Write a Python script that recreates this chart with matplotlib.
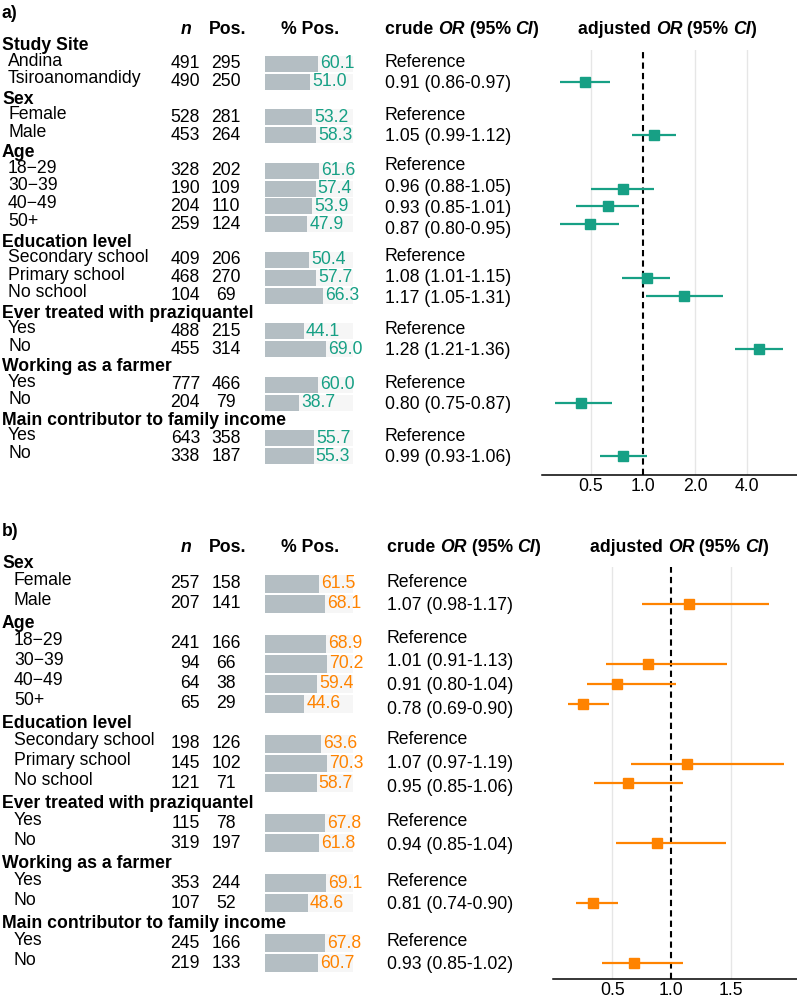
import numpy as np
import matplotlib.pyplot as plt

plt.rcParams['font.family'] = ['Liberation Sans', 'DejaVu Sans']

W, H = 797, 998
FS = 12.7
nan = np.nan

# ---- panel a ----
groups_a = ['Study Site', 'Sex', 'Age', 'Education level',
            'Ever treated with praziquantel', 'Working as a farmer',
            'Main contributor to family income']
levels_a = [['Andina', 'Tsiroanomandidy'], ['Female', 'Male'],
            ['18\u221229', '30\u221239', '40\u221249', '50+'],
            ['Secondary school', 'Primary school', 'No school'],
            ['Yes', 'No'], ['Yes', 'No'], ['Yes', 'No']]
n_a = [491, 490, 528, 453, 328, 190, 204, 259, 409, 468, 104, 488, 455, 777, 204, 643, 338]
pos_a = [295, 250, 281, 264, 202, 109, 110, 124, 206, 270, 69, 215, 314, 466, 79, 358, 187]
pct_a = [60.1, 51.0, 53.2, 58.3, 61.6, 57.4, 53.9, 47.9, 50.4, 57.7, 66.3,
         44.1, 69.0, 60.0, 38.7, 55.7, 55.3]
crude_a = ['Reference', '0.91 (0.86-0.97)', 'Reference', '1.05 (0.99-1.12)',
           'Reference', '0.96 (0.88-1.05)', '0.93 (0.85-1.01)', '0.87 (0.80-0.95)',
           'Reference', '1.08 (1.01-1.15)', '1.17 (1.05-1.31)',
           'Reference', '1.28 (1.21-1.36)', 'Reference', '0.80 (0.75-0.87)',
           'Reference', '0.99 (0.93-1.06)']
adj_a = [nan, 0.46, nan, 1.16, nan, 0.77, 0.63, 0.49, nan, 1.05, 1.73, nan, 4.7, nan, 0.44, nan, 0.77]
adj_lo_a = [nan, 0.33, nan, 0.86, nan, 0.50, 0.41, 0.33, nan, 0.76, 1.04, nan, 3.4, nan, 0.31, nan, 0.56]
adj_hi_a = [nan, 0.64, nan, 1.55, nan, 1.16, 0.95, 0.73, nan, 1.43, 2.90, nan, 6.5, nan, 0.66, nan, 1.05]

# ---- panel b ----
groups_b = groups_a[1:]
levels_b = levels_a[1:]
n_b = [257, 207, 241, 94, 64, 65, 198, 145, 121, 115, 319, 353, 107, 245, 219]
pos_b = [158, 141, 166, 66, 38, 29, 126, 102, 71, 78, 197, 244, 52, 166, 133]
pct_b = [61.5, 68.1, 68.9, 70.2, 59.4, 44.6, 63.6, 70.3, 58.7, 67.8, 61.8,
         69.1, 48.6, 67.8, 60.7]
crude_b = ['Reference', '1.07 (0.98-1.17)', 'Reference', '1.01 (0.91-1.13)',
           '0.91 (0.80-1.04)', '0.78 (0.69-0.90)', 'Reference', '1.07 (0.97-1.19)',
           '0.95 (0.85-1.06)', 'Reference', '0.94 (0.85-1.04)',
           'Reference', '0.81 (0.74-0.90)', 'Reference', '0.93 (0.85-1.02)']
adj_b = [nan, 1.15, nan, 0.80, 0.54, 0.25, nan, 1.13, 0.63, nan, 0.88, nan, 0.34, nan, 0.68]
adj_lo_b = [nan, 0.75, nan, 0.45, 0.29, 0.13, nan, 0.66, 0.35, nan, 0.53, nan, 0.195, nan, 0.41]
adj_hi_b = [nan, 1.82, nan, 1.47, 1.04, 0.47, nan, 1.95, 1.10, nan, 1.46, nan, 0.55, nan, 1.10]

TEAL = '#17a085'
ORANGE = '#ff8300'
BAR = '#b4bec3'
TRACK = '#f6f6f6'


def make_ax(fig, x0, x1, top, bot, y0, dy):
    ax = fig.add_axes([x0 / W, 1 - bot / H, (x1 - x0) / W, (bot - top) / H])
    ax.set_ylim((bot - y0) / dy, (top - y0) / dy)
    return ax


def chain_text(ax, x, y, pieces, **kw):
    t = ax.text(x, y, pieces[0][0], va='center', ha='left', fontsize=FS,
                fontweight='bold', fontstyle=pieces[0][1], **kw)
    for s, st in pieces[1:]:
        t = ax.annotate(s, xy=(1, 0), xycoords=t, va='bottom', ha='left',
                        fontsize=FS, fontweight='bold', fontstyle=st)
    return t


def draw_panel(fig, label, groups, levels, n, pos, pct, crude, adj, lo, hi,
               color, top, bot, y0, dy, ftop, fbot, fleft, logx, xlim, ticks,
               sub_x, crude_x, adj_x):
    to_slot = lambda px: (px - y0) / dy
    tab = make_ax(fig, 0, W, top, bot, y0, dy)
    tab.set_xlim(0, W)
    tab.axis('off')

    # slots: header row then its levels
    item_y, group_info = [], []
    s = 0
    for g, lv in zip(groups, levels):
        tab.text(2, s, g, fontsize=FS, fontweight='bold', va='center')
        ys = [s + 1 + i for i in range(len(lv))]
        for yy, name in zip(ys, lv):
            tab.text(sub_x, yy - 0.15, name, fontsize=FS, va='center')
        item_y += ys
        group_info.append(ys)
        s += len(lv) + 1
    item_y = np.array(item_y, dtype=float)

    for yy, a, b in zip(item_y, n, pos):
        tab.text(200, yy, str(a), fontsize=FS, va='center', ha='right')
        tab.text(226, yy, str(b), fontsize=FS, va='center', ha='center')

    # crude OR column, spread slightly wider around each group centre
    k = 0
    for ys in group_info:
        c = np.mean(ys)
        m = len(ys)
        for i in range(m):
            tab.text(crude_x, c + (i - (m - 1) / 2) * 1.18, crude[k],
                     fontsize=FS, va='center', ha='left')
            k += 1

    # headers
    hy = to_slot(y0 - 16)
    tab.text(2, to_slot(y0 - 33), label, fontsize=FS, fontweight='bold', va='center')
    tab.text(186, hy, 'n', fontsize=FS, fontweight='bold', fontstyle='italic',
             va='center', ha='center')
    tab.text(228, hy, 'Pos.', fontsize=FS, fontweight='bold', va='center', ha='center')
    tab.text(310, hy, '% Pos.', fontsize=FS, fontweight='bold', va='center', ha='center')
    chain_text(tab, crude_x, hy, [('crude ', 'normal'), ('OR', 'italic'),
                                  (' (95% ', 'normal'), ('CI', 'italic'), (')', 'normal')])
    chain_text(tab, adj_x, hy, [('adjusted ', 'normal'), ('OR', 'italic'),
                                (' (95% ', 'normal'), ('CI', 'italic'), (')', 'normal')])

    # % positive bars
    bx = make_ax(fig, 265, 353, top, bot, y0, dy)
    bx.set_xlim(0, 100)
    bx.axis('off')
    bx.barh(item_y, [100] * len(item_y), height=0.9, color=TRACK)
    bx.barh(item_y, pct, height=0.9, color=BAR)
    for yy, p in zip(item_y, pct):
        bx.annotate(f'{p:.1f}', xy=(p, yy), xytext=(1.5, 0), textcoords='offset points',
                    va='center', ha='left', fontsize=FS, color=color)

    # forest plot
    fx = make_ax(fig, fleft, W, ftop, fbot, y0, dy)
    if logx:
        fx.set_xscale('log', base=2)
    fx.set_xlim(*xlim)
    for t in ticks:
        if t != 1:
            fx.axvline(t, color='#e6e6e6', lw=1.0, zorder=0)
    fx.axvline(1, color='black', lw=1.5, ls=(0, (3, 2)), zorder=1)
    fx.hlines(item_y, lo, hi, color=color, lw=1.6, zorder=2)
    fx.plot(adj, item_y, 's', color=color, ms=6.8, zorder=3)
    fx.set_xticks(ticks)
    fx.set_xticklabels([f'{t:.1f}' for t in ticks])
    fx.xaxis.set_minor_locator(plt.NullLocator())
    fx.set_yticks([])
    fx.tick_params(axis='x', length=0, labelsize=FS, pad=2)
    for sp in ['top', 'left', 'right']:
        fx.spines[sp].set_visible(False)
    fx.spines['bottom'].set_linewidth(1.1)
    fx.patch.set_alpha(0)


fig = plt.figure(figsize=(W / 100, H / 100), dpi=100)

draw_panel(fig, 'a)', groups_a, levels_a, n_a, pos_a, pct_a, crude_a,
           adj_a, adj_lo_a, adj_hi_a, TEAL, top=0, bot=490, y0=46, dy=17.83,
           ftop=50, fbot=475, fleft=542, logx=True, xlim=(0.26, 7.8),
           ticks=[0.5, 1.0, 2.0, 4.0], sub_x=8, crude_x=385, adj_x=578)

draw_panel(fig, 'b)', groups_b, levels_b, n_b, pos_b, pct_b, crude_b,
           adj_b, adj_lo_b, adj_hi_b, ORANGE, top=500, bot=998, y0=564, dy=19.95,
           ftop=567, fbot=979, fleft=553, logx=False, xlim=(0.0, 2.06),
           ticks=[0.5, 1.0, 1.5], sub_x=14, crude_x=387, adj_x=590)

fig.savefig('out.png', dpi=100)
